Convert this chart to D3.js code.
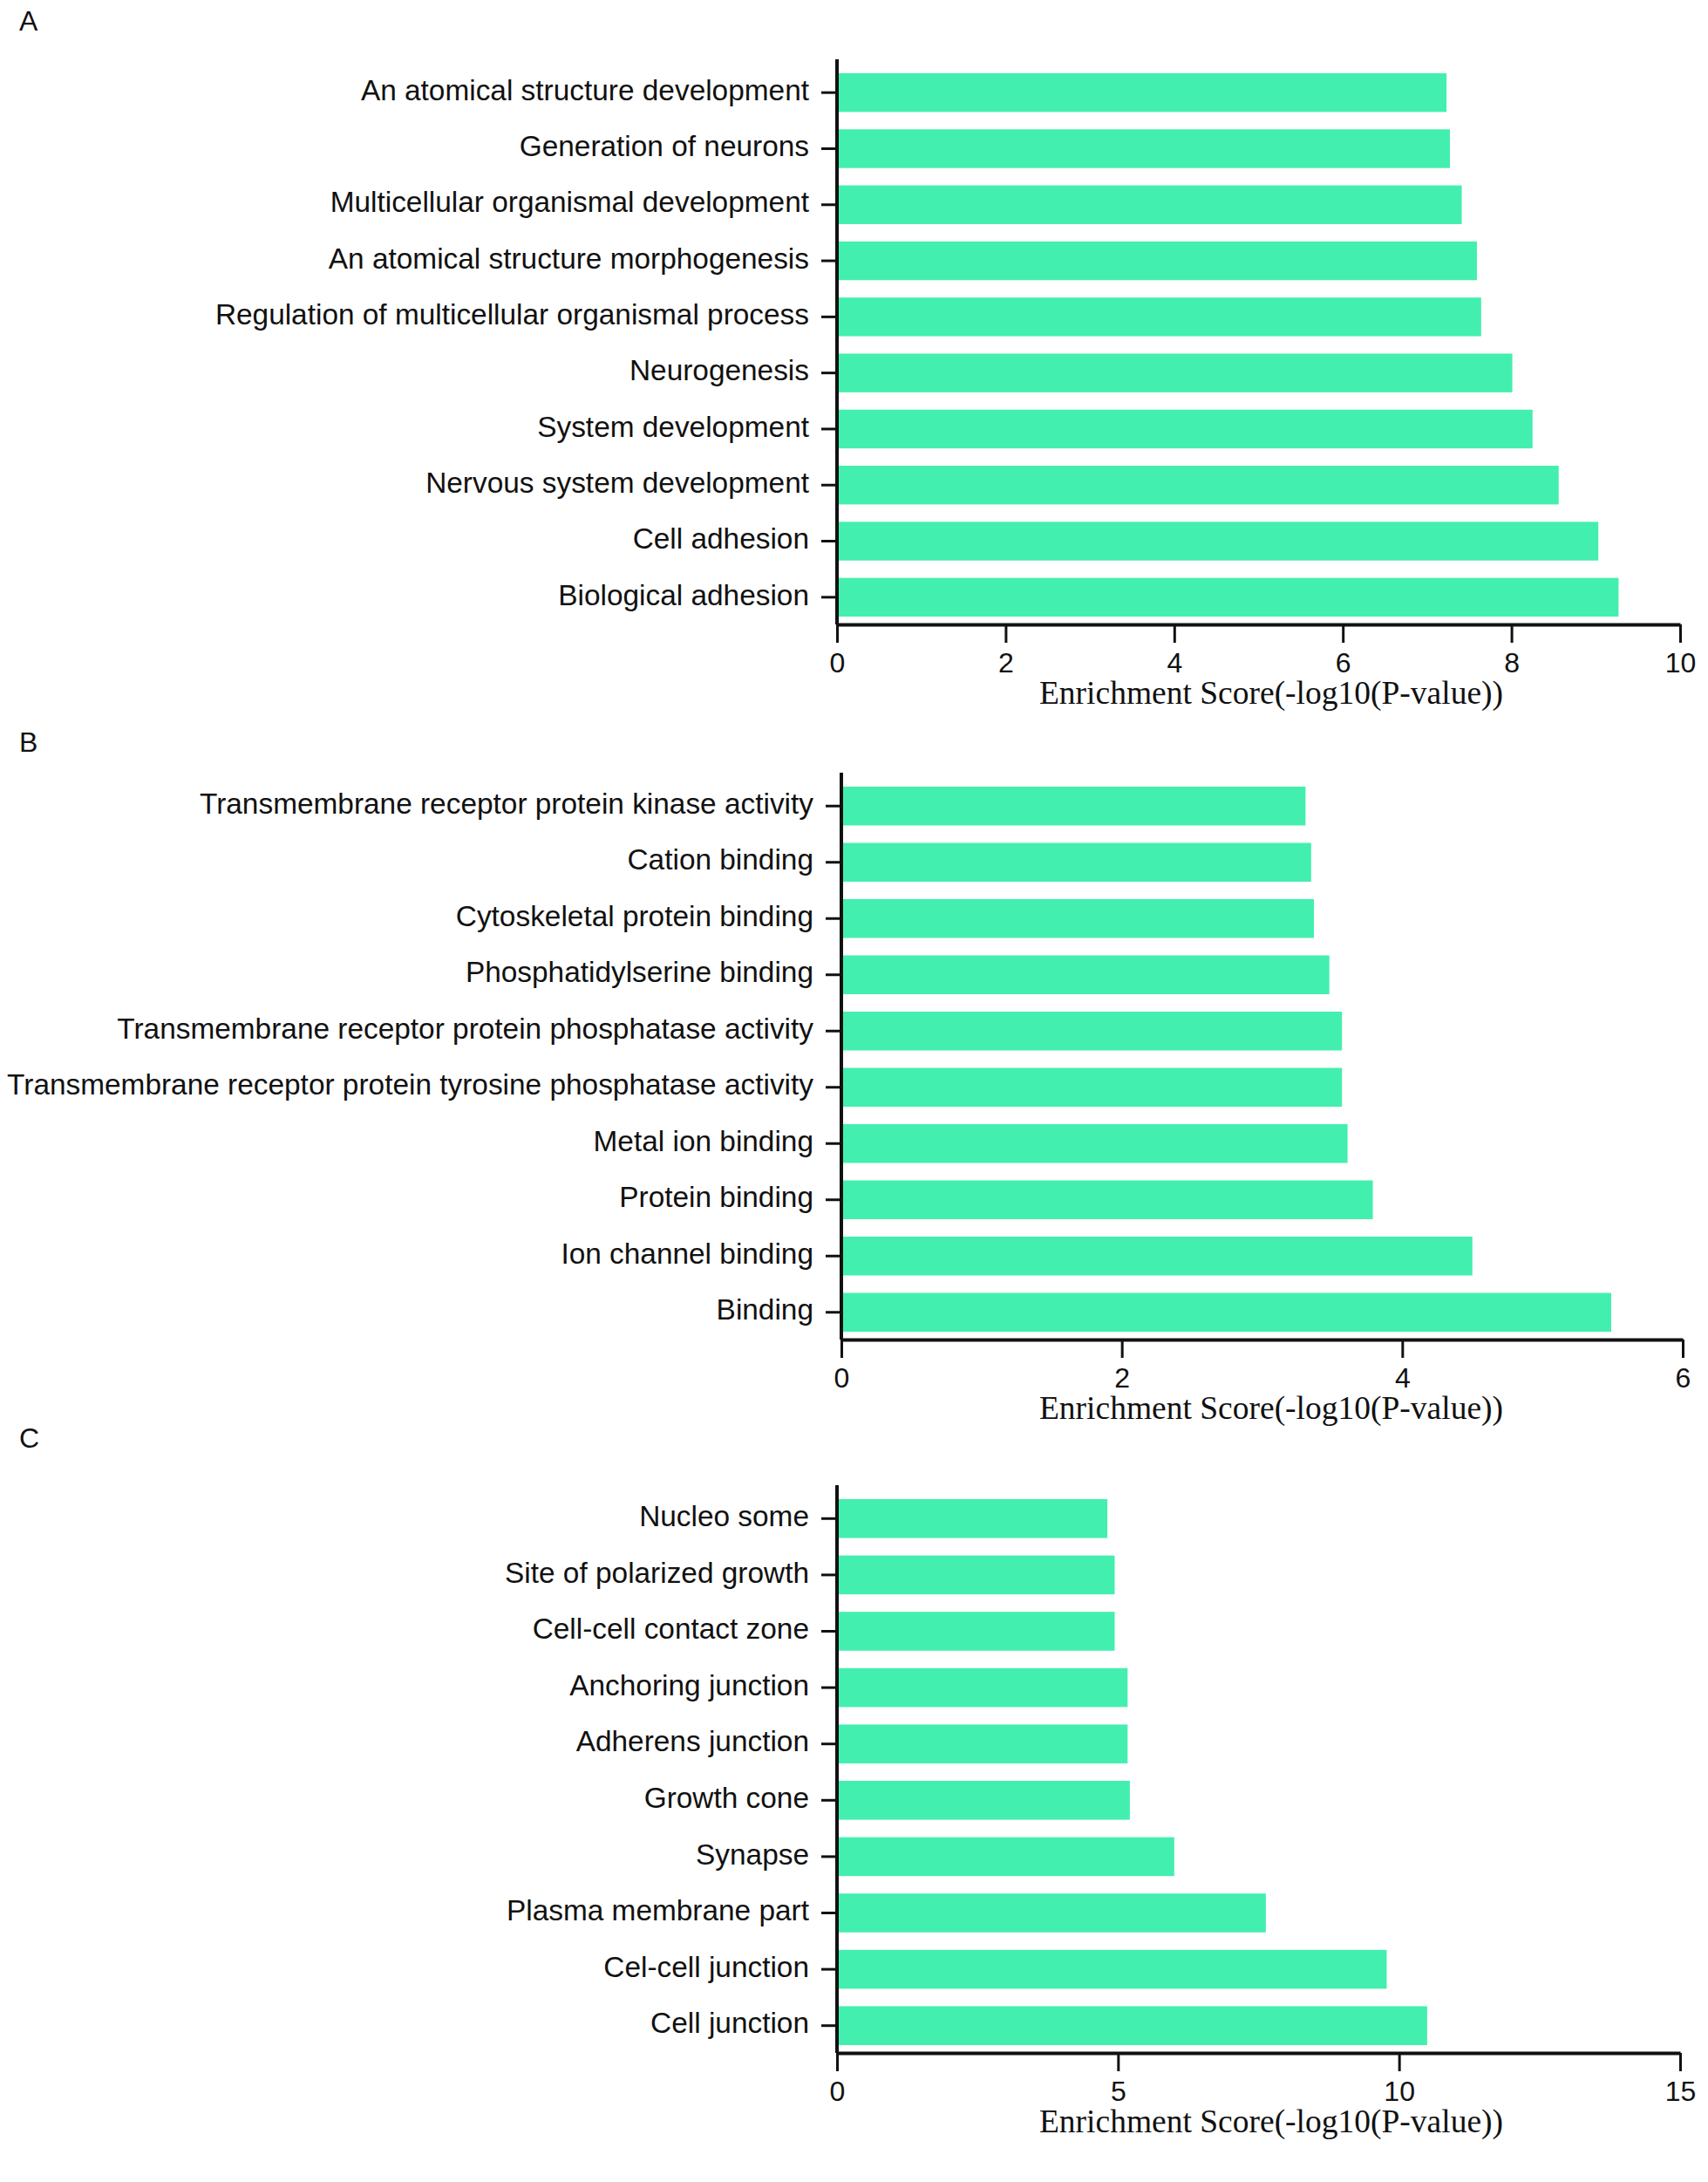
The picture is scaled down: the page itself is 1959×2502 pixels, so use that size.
<!DOCTYPE html>
<html>
<head>
<meta charset="utf-8">
<script src="https://cdn.jsdelivr.net/npm/d3@7"></script>
<style>
  html, body { margin: 0; padding: 0; background: #fff; }
  svg { display: block; }
</style>
</head>
<body>
<div id="chart"></div>
<script>
// Panel A: biological process (top to bottom as drawn)
const termsA = [
  "An atomical structure development",
  "Generation of neurons",
  "Multicellular organismal development",
  "An atomical structure morphogenesis",
  "Regulation of multicellular organismal process",
  "Neurogenesis",
  "System development",
  "Nervous system development",
  "Cell adhesion",
  "Biological adhesion"
];
const scoresA = [7.23, 7.27, 7.41, 7.59, 7.64, 8.01, 8.25, 8.56, 9.03, 9.27];
const ticksA = [0, 2, 4, 6, 8, 10];

// Panel B: molecular function
const termsB = [
  "Transmembrane receptor protein kinase activity",
  "Cation binding",
  "Cytoskeletal protein binding",
  "Phosphatidylserine binding",
  "Transmembrane receptor protein phosphatase activity",
  "Transmembrane receptor protein tyrosine phosphatase activity",
  "Metal ion binding",
  "Protein binding",
  "Ion channel binding",
  "Binding"
];
const scoresB = [3.31, 3.35, 3.37, 3.48, 3.57, 3.57, 3.61, 3.79, 4.50, 5.49];
const ticksB = [0, 2, 4, 6];

// Panel C: cellular component
const termsC = [
  "Nucleo some",
  "Site of polarized growth",
  "Cell-cell contact zone",
  "Anchoring junction",
  "Adherens junction",
  "Growth cone",
  "Synapse",
  "Plasma membrane part",
  "Cel-cell junction",
  "Cell junction"
];
const scoresC = [4.81, 4.94, 4.94, 5.17, 5.17, 5.21, 6.0, 7.63, 9.78, 10.5];
const ticksC = [0, 5, 10, 15];

const axisTitle = "Enrichment Score(-log10(P-value))";

const W = 1959, H = 2502;
const barColor = "#43efae";
const sansFont = "'Liberation Sans', Arial, sans-serif";
const serifFont = "'Liberation Serif', 'Times New Roman', serif";

const svg = d3.select("#chart").append("svg")
  .attr("width", W)
  .attr("height", H)
  .attr("viewBox", [0, 0, W, H]);

// layout of the three stacked panels
const panels = [
  { label: "A", labelY: 35,   terms: termsA, scores: scoresA, ticks: ticksA, x0: 960, x1: 1927, top: 68,   base: 716 },
  { label: "B", labelY: 862,  terms: termsB, scores: scoresB, ticks: ticksB, x0: 965, x1: 1930, top: 886,  base: 1536 },
  { label: "C", labelY: 1660, terms: termsC, scores: scoresC, ticks: ticksC, x0: 960, x1: 1927, top: 1703, base: 2354 }
];

panels.forEach(p => {
  const g = svg.append("g");

  const x = d3.scaleLinear()
    .domain([p.ticks[0], p.ticks[p.ticks.length - 1]])
    .range([p.x0, p.x1]);

  const y = d3.scaleBand()
    .domain(p.terms)
    .range([p.top + 16, p.base - 9])
    .paddingInner(0.31)
    .paddingOuter(0);

  // panel letter
  g.append("text")
    .attr("x", 22)
    .attr("y", p.labelY)
    .attr("font-family", sansFont)
    .attr("font-size", 32)
    .attr("fill", "#111")
    .text(p.label);

  // bars
  g.selectAll("rect.bar")
    .data(p.terms.map((t, i) => ({ term: t, score: p.scores[i] })))
    .enter()
    .append("rect")
    .attr("class", "bar")
    .attr("x", x(0))
    .attr("y", d => y(d.term))
    .attr("width", d => x(d.score) - x(0))
    .attr("height", y.bandwidth())
    .attr("fill", barColor);

  // y axis (categories)
  const yAxis = g.append("g")
    .attr("transform", `translate(${x(0)},0)`)
    .call(d3.axisLeft(y).tickSize(18).tickPadding(14));
  yAxis.select(".domain").remove();
  yAxis.selectAll(".tick line").attr("stroke", "#111").attr("stroke-width", 3);
  yAxis.selectAll(".tick text")
    .attr("dy", "0.26em")
    .attr("font-family", sansFont)
    .attr("font-size", 33.4)
    .attr("fill", "#111");

  g.append("line")
    .attr("x1", x(0)).attr("x2", x(0))
    .attr("y1", p.top).attr("y2", p.base)
    .attr("stroke", "#111")
    .attr("stroke-width", 4);

  // x axis (scores)
  const xAxis = g.append("g")
    .attr("transform", `translate(0,${p.base})`)
    .call(d3.axisBottom(x).tickValues(p.ticks).tickFormat(d3.format("d"))
      .tickSize(21).tickSizeOuter(0).tickPadding(11));
  xAxis.select(".domain").attr("stroke", "#111").attr("stroke-width", 4);
  xAxis.selectAll(".tick line").attr("stroke", "#111").attr("stroke-width", 3);
  xAxis.selectAll(".tick text")
    .attr("font-family", sansFont)
    .attr("font-size", 32)
    .attr("fill", "#111");

  // axis title
  g.append("text")
    .attr("x", 1458)
    .attr("y", p.base + 91)
    .attr("text-anchor", "middle")
    .attr("font-family", serifFont)
    .attr("font-size", 37.5)
    .attr("fill", "#111")
    .text(axisTitle);
});
</script>
</body>
</html>
